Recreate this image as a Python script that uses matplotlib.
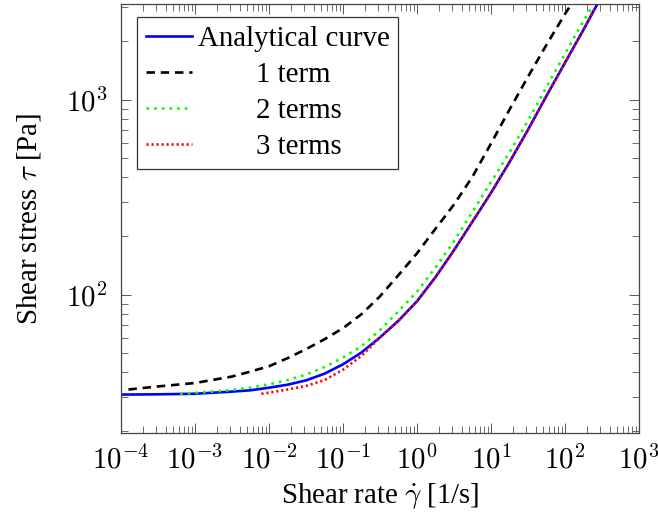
import numpy as np
import matplotlib
matplotlib.use("Agg")
import matplotlib.pyplot as plt
from matplotlib.ticker import LogLocator, FuncFormatter, NullFormatter

plt.rcParams['font.family'] = ['Liberation Serif', 'DejaVu Serif']
plt.rcParams['mathtext.fontset'] = 'cm'

# values (shear rate [1/s], shear stress [Pa])
gamma_exact = [1e-4, 3.16e-4, 1e-3, 3.16e-3, 5.62e-3, 1e-2, 1.78e-2, 3.16e-2, 5.62e-2,
               0.1, 0.178, 0.316, 0.562, 1.0, 1.78, 3.16, 5.62, 10, 17.8, 31.6, 56.2,
               100, 178, 316]
tau_exact = [30.7, 30.8, 31.0, 31.8, 32.3, 33.3, 34.5, 36.3, 39.3,
             43.9, 50.5, 60.3, 73.5, 92.5, 123, 169, 237, 333, 479, 701, 1047,
             1549, 2290, 3430]

gamma_1 = [1.26e-4, 3.16e-4, 1e-3, 3.16e-3, 5.62e-3, 1e-2, 1.78e-2, 3.16e-2, 5.62e-2,
           0.1, 0.178, 0.316, 0.562, 1.0, 1.78, 3.16, 5.62, 10, 17.8, 31.6, 56.2,
           100, 126]
tau_1 = [32.6, 33.8, 35.2, 38.0, 40.3, 42.9, 47.2, 52.5, 59.0,
         67.3, 79.4, 98.0, 126, 163, 218, 290, 403, 596, 891, 1312, 1914,
         2754, 3162]

gamma_2 = [6.3e-4, 1e-3, 3.16e-3, 5.62e-3, 1e-2, 1.78e-2, 3.16e-2, 5.62e-2, 0.1,
           0.178, 0.316, 0.562, 1.0, 1.78, 3.16, 5.62, 10, 17.8, 31.6, 56.2, 100,
           178, 240]
tau_2 = [31.0, 31.3, 32.4, 33.3, 34.7, 36.4, 38.9, 42.5, 47.6,
         54.3, 65.8, 82.2, 103.5, 138, 188, 266, 378, 537, 780, 1164, 1722,
         2541, 3050]

gamma_3 = [7.9e-3, 1e-2, 1.78e-2, 3.16e-2, 5.62e-2, 0.1, 0.178, 0.316, 0.562,
           1.0, 1.78, 3.16, 5.62, 10, 17.8, 31.6, 56.2, 100, 178, 250]
tau_3 = [31.0, 31.4, 32.6, 34.0, 36.4, 41.2, 48.5, 60.3, 73.5,
         92.5, 123, 169, 237, 333, 479, 701, 1047, 1549, 2290, 2920]

labels = ["Analytical curve", "1 term", "2 terms", "3 terms"]
pads = ["", " " * 8, " " * 8, " " * 8]

fs = 20.8
fig = plt.figure(figsize=(6.58, 5.15), dpi=100)
ax = fig.add_axes([121 / 658, 1 - 433 / 515, 518 / 658, 429 / 515])

lw = 1.9
ax.plot(gamma_exact, tau_exact, color='#0000ff', lw=lw, label=pads[0] + labels[0])
ax.plot(gamma_1, tau_1, color='black', lw=lw, linestyle=(0, (3.2, 2.2)),
        label=pads[1] + labels[1])
ax.plot(gamma_2, tau_2, color='#00ff00', lw=lw, linestyle=(0, (1.0, 1.9)),
        label=pads[2] + labels[2])
ax.plot(gamma_3, tau_3, color='#ff0000', lw=lw, linestyle=(0, (0.8, 1.1)),
        label=pads[3] + labels[3])

ax.set_xscale('log')
ax.set_yscale('log')
ax.set_xlim(1e-4, 1e3)
ax.set_ylim(19.5, 3100)

ax.xaxis.set_major_locator(LogLocator(base=10, numticks=20))
ax.xaxis.set_minor_locator(LogLocator(base=10, subs=np.arange(2, 10), numticks=20))
ax.yaxis.set_major_locator(LogLocator(base=10, numticks=20))
ax.yaxis.set_minor_locator(LogLocator(base=10, subs=np.arange(2, 10), numticks=20))
fmt = FuncFormatter(lambda v, p: r'$10^{%d}$' % int(round(np.log10(v))))
ax.xaxis.set_major_formatter(fmt)
ax.yaxis.set_major_formatter(fmt)
ax.xaxis.set_minor_formatter(NullFormatter())
ax.yaxis.set_minor_formatter(NullFormatter())

ax.tick_params(which='both', direction='in', top=True, right=True,
               color='#555555', labelsize=fs)
ax.tick_params(which='major', length=7.5, width=0.7)
ax.tick_params(which='minor', length=5, width=0.6)
ax.tick_params(axis='x', which='major', pad=9)
ax.tick_params(axis='y', which='major', pad=10)
for s in ax.spines.values():
    s.set_color('#444444')
    s.set_linewidth(0.9)

ax.set_xlabel(r'Shear rate $\dot{\gamma}$ [1/s]', fontsize=fs, labelpad=5)
ax.set_ylabel(r'Shear stress $\tau$ [Pa]', fontsize=fs, labelpad=16)

leg = ax.legend(loc='upper left', bbox_to_anchor=(16 / 518, 1 - 13 / 429),
                borderaxespad=0, fontsize=fs, handlelength=1.6, handletextpad=0.2,
                labelspacing=0.34, borderpad=0.3, fancybox=False, framealpha=1)
leg.get_frame().set_edgecolor('#333333')
leg.get_frame().set_linewidth(0.9)

fig.savefig('out.png', dpi=100)
